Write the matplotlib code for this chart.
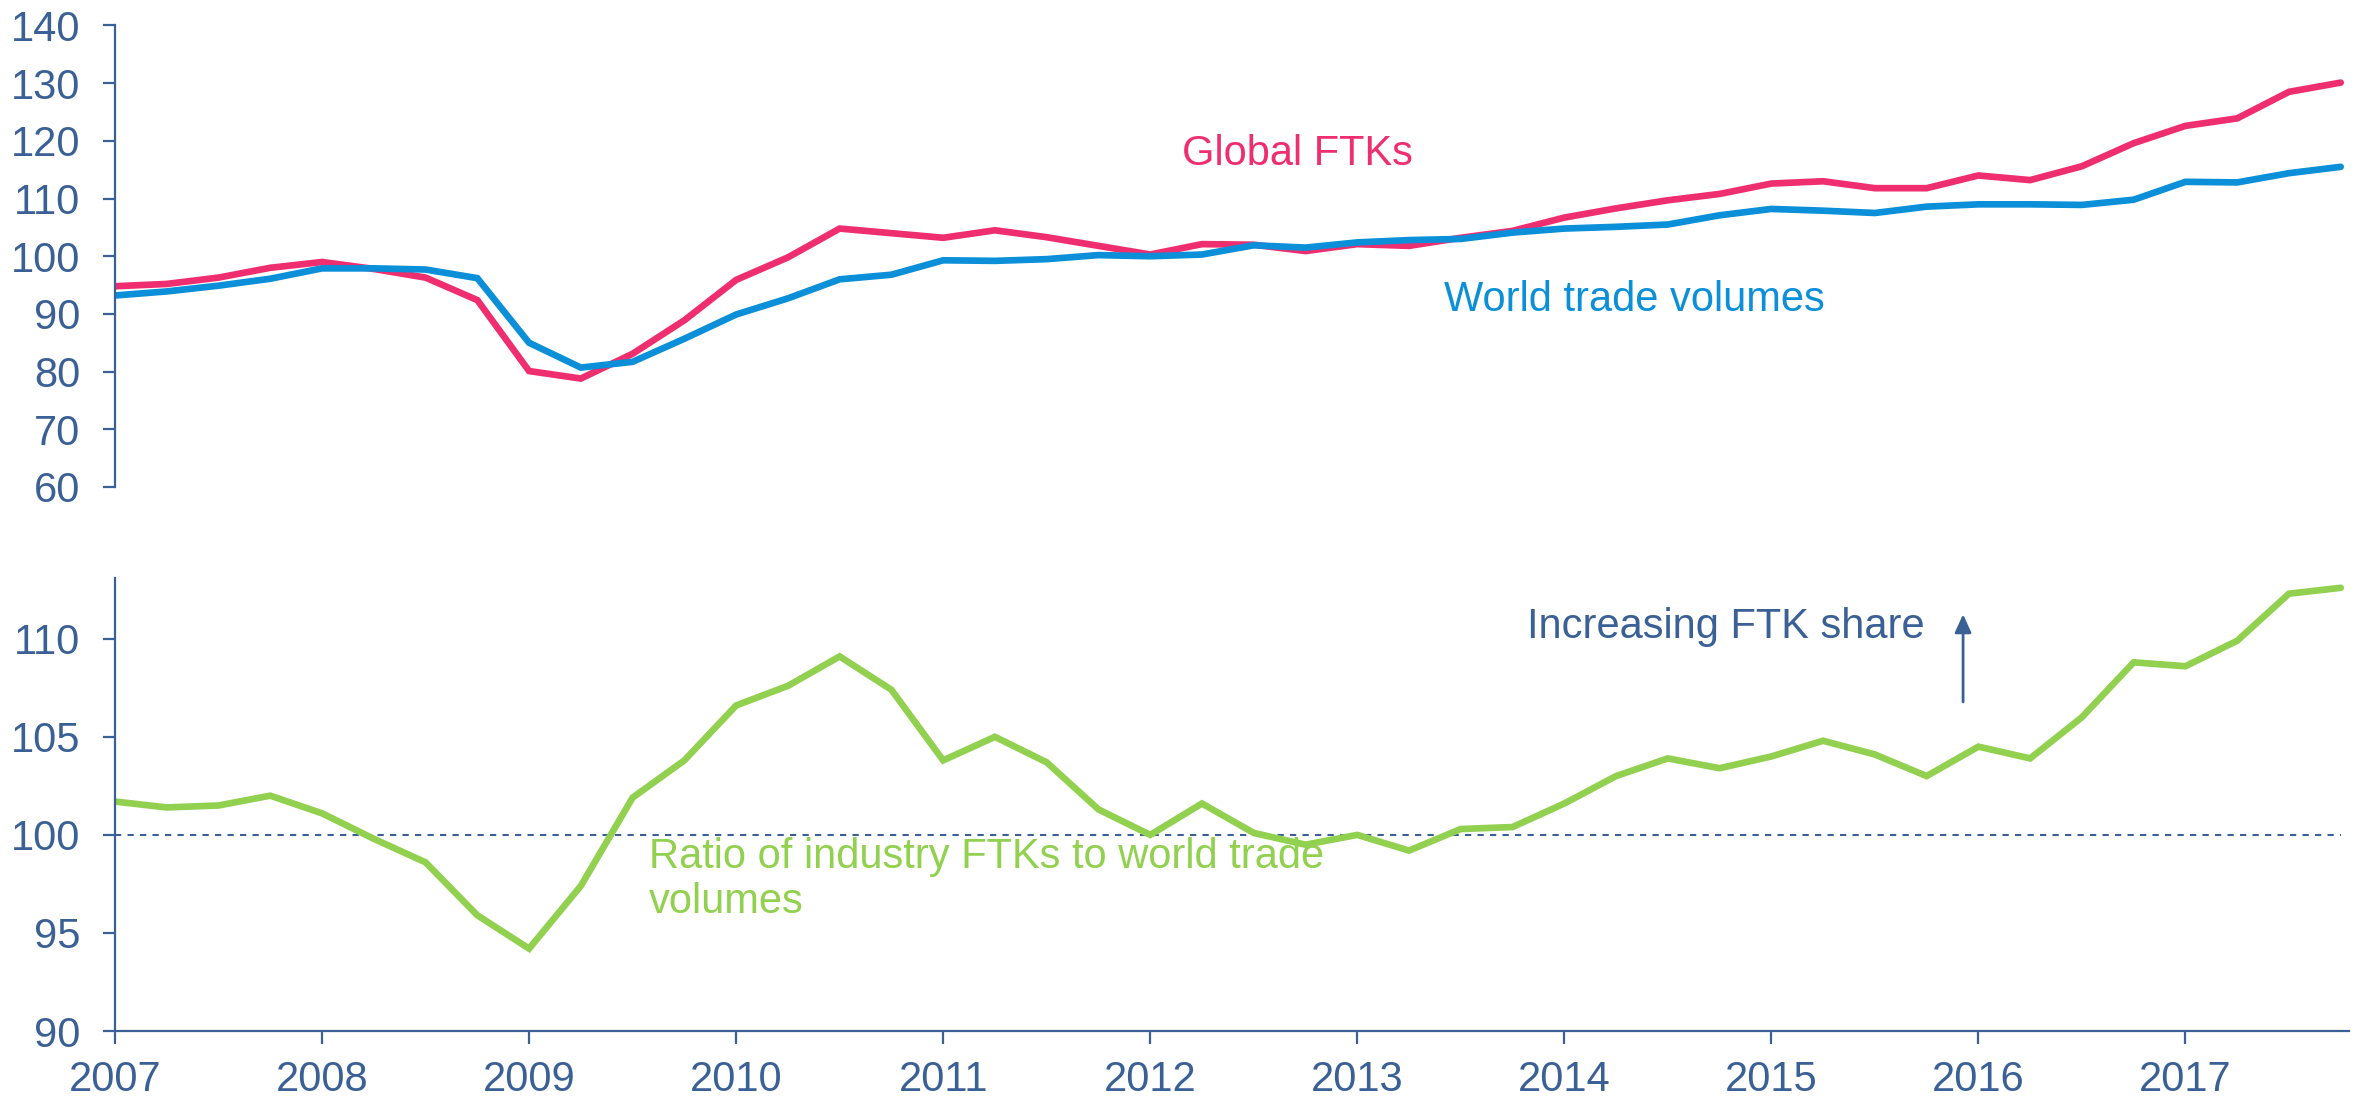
import numpy as np
import matplotlib
matplotlib.use("Agg")
import matplotlib.pyplot as plt

plt.rcParams['font.family'] = ['Liberation Sans', 'DejaVu Sans']

# quarterly data, 2007Q1 .. 2017Q4
global_ftks = [94.8, 95.2, 96.3, 98.0,
               99.0, 97.8, 96.3, 92.4,
               80.1, 78.8, 83.1, 88.9,
               95.9, 99.8, 104.8, 104.0,
               103.2, 104.5, 103.3, 101.8,
               100.3, 102.1, 102.0, 100.9,
               102.1, 101.8, 103.2, 104.4,
               106.7, 108.3, 109.7, 110.8,
               112.6, 113.0, 111.8, 111.8,
               114.0, 113.2, 115.6, 119.6,
               122.6, 123.9, 128.5, 130.1]
world_trade = [93.2, 93.9, 94.9, 96.1,
               97.9, 97.9, 97.7, 96.2,
               85.0, 80.7, 81.7, 85.7,
               89.9, 92.7, 96.0, 96.8,
               99.3, 99.2, 99.5, 100.2,
               100.0, 100.3, 101.9, 101.5,
               102.4, 102.8, 103.0, 104.1,
               104.8, 105.1, 105.5, 107.1,
               108.2, 107.9, 107.5, 108.6,
               109.0, 109.0, 108.9, 109.8,
               112.9, 112.8, 114.4, 115.5]
ratio = [101.7, 101.4, 101.5, 102.0,
         101.1, 99.8, 98.6, 95.9,
         94.2, 97.4, 101.9, 103.8,
         106.6, 107.6, 109.1, 107.4,
         103.8, 105.0, 103.7, 101.3,
         100.0, 101.6, 100.1, 99.5,
         100.0, 99.2, 100.3, 100.4,
         101.6, 103.0, 103.9, 103.4,
         104.0, 104.8, 104.1, 103.0,
         104.5, 103.9, 106.0, 108.8,
         108.6, 109.9, 112.3, 112.6]
years = list(range(2007, 2018))
quarters = np.arange(len(ratio)) / 4 + 2007

PINK = '#EE2E6F'
BLUE = '#0A8FD8'
GREEN = '#92D050'
NAVY = '#3A6096'

fig = plt.figure(figsize=(23.56, 11.02), dpi=100)
left, right = 115 / 2356, 2349 / 2356
ax1 = fig.add_axes([left, 1 - 487 / 1102, right - left, (487 - 25.5) / 1102])
ax2 = fig.add_axes([left, 1 - 1031 / 1102, right - left, (1031 - 578) / 1102])

xlim = (2007, 2017.79)
LW = 4.8

# top panel
ax1.plot(quarters, global_ftks, color=PINK, lw=LW, solid_capstyle='round', solid_joinstyle='miter')
ax1.plot(quarters, world_trade, color=BLUE, lw=LW, solid_capstyle='round', solid_joinstyle='miter')
ax1.set_xlim(*xlim)
ax1.set_ylim(60, 140)
ax1.set_yticks(range(60, 141, 10))
ax1.set_xticks([])
for s in ['top', 'right', 'bottom']:
    ax1.spines[s].set_visible(False)
ax1.text(2012.155, 115.8, 'Global FTKs', color=PINK, fontsize=30, va='baseline', ha='left')
ax1.text(2013.42, 90.44, 'World trade volumes', color=BLUE, fontsize=30, va='baseline', ha='left')

# bottom panel
ax2.plot([2007, 2017.75], [100, 100], color=NAVY, lw=1.5, dashes=(3, 3))
ax2.plot(quarters, ratio, color=GREEN, lw=LW, solid_capstyle='round', solid_joinstyle='miter')
ax2.set_xlim(*xlim)
ax2.set_ylim(90, 113.1)
ax2.set_yticks([90, 95, 100, 105, 110])
ax2.set_xticks(years)
for s in ['top', 'right']:
    ax2.spines[s].set_visible(False)
ax2.text(2009.58, 96.0, 'Ratio of industry FTKs to world trade\nvolumes', color=GREEN,
         fontsize=30, va='baseline', ha='left', linespacing=1.18)
ax2.text(2013.82, 110.03, 'Increasing FTK share', color=NAVY, fontsize=30, va='baseline', ha='left')
ax2.annotate('', xy=(2015.926, 111.25), xytext=(2015.926, 106.78),
             arrowprops=dict(arrowstyle='-|>,head_length=1.1,head_width=0.5', color=NAVY, lw=2,
                             shrinkA=0, shrinkB=0))

for ax in (ax1, ax2):
    for s in ['left', 'bottom']:
        ax.spines[s].set_color(NAVY)
        ax.spines[s].set_linewidth(1.6)
    ax.tick_params(axis='both', colors=NAVY, labelsize=30, length=9, width=1.6, direction='out')
    ax.tick_params(axis='y', pad=16)
    ax.tick_params(axis='x', pad=12)

fig.savefig('out.png', dpi=100)
